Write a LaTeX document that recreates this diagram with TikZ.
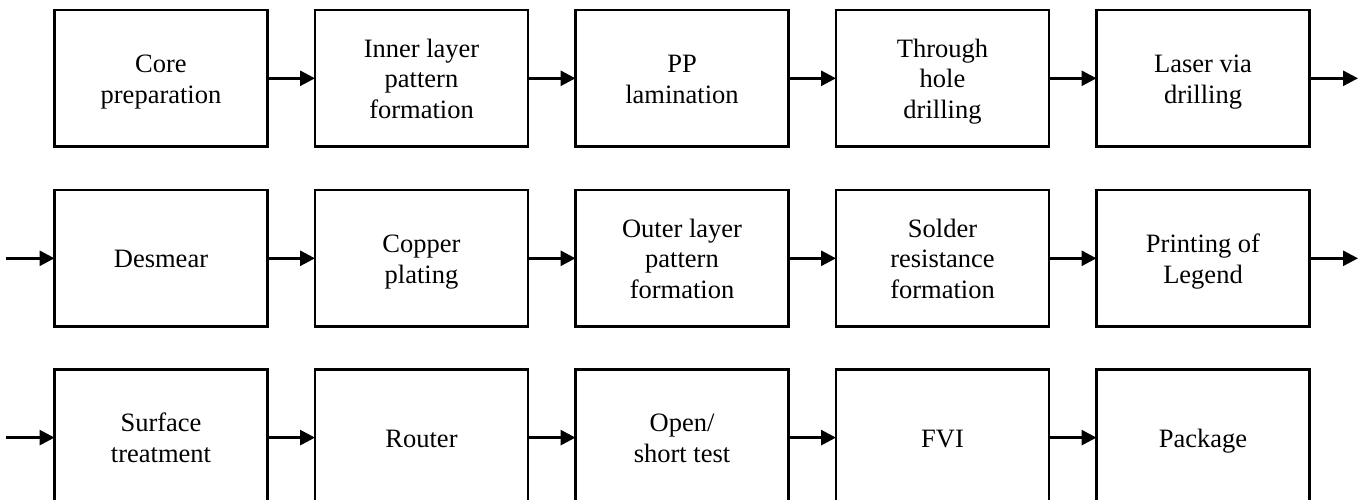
\documentclass[tikz,border=0pt]{standalone}
\usepackage{fontspec}
\setmainfont{Liberation Serif}
\usetikzlibrary{arrows.meta}
% invisible rule that fixes the height of the first text line
\newcommand\firstln{\rule{0pt}{28.4pt}}
\tikzset{
  stepbox/.style={draw, line width=2.8pt, minimum width=213pt, minimum height=136.5pt,
    inner sep=0pt, outer sep=0pt, align=center,
    font=\fontsize{26.5pt}{30.7pt}\selectfont,
    execute at end node={\rule[-9.2pt]{0pt}{9.2pt}}},
  flow/.style={line width=2.8pt, -{Triangle[length=15pt,width=15pt]}}
}
\begin{document}
\begin{tikzpicture}[x=1pt,y=-1pt]
  \clip (0,0) rectangle (1368,499);
  % row 1
  \node[stepbox] (a1) at (161,78.3)   {\firstln Core\\preparation};
  \node[stepbox] (a2) at (421.5,78.3) {\firstln Inner layer\\pattern\\formation};
  \node[stepbox] (a3) at (682,78.3)   {\firstln PP\\lamination};
  \node[stepbox] (a4) at (942.5,78.3) {\firstln Through\\hole\\drilling};
  \node[stepbox] (a5) at (1203,78.3)  {\firstln Laser via\\drilling};
  % row 2
  \node[stepbox] (b1) at (161,258.3)    {\firstln Desmear};
  \node[stepbox] (b2) at (421.5,258.3)  {\firstln Copper\\plating};
  \node[stepbox] (b3) at (682,258.3)    {\firstln Outer layer\\pattern\\formation};
  \node[stepbox] (b4) at (942.5,258.3)  {\firstln Solder\\resistance\\formation};
  \node[stepbox] (b5) at (1203,258.3)   {\firstln Printing of\\Legend};
  % row 3
  \node[stepbox] (c1) at (161,437.6)  {\firstln Surface\\treatment};
  \node[stepbox] (c2) at (421.5,437.6){\firstln Router};
  \node[stepbox] (c3) at (682,437.6)  {\firstln Open/\\short test};
  \node[stepbox] (c4) at (942.5,437.6){\firstln FVI};
  \node[stepbox] (c5) at (1203,437.6) {\firstln Package};
  % row ends
  \coordinate (aout) at (1358,78.3);
  \coordinate (bin)  at (6,258.3);
  \coordinate (bout) at (1358,258.3);
  \coordinate (cin)  at (6,437.6);
  % connectors
  \draw[flow] (a1) -- (a2);
  \draw[flow] (a2) -- (a3);
  \draw[flow] (a3) -- (a4);
  \draw[flow] (a4) -- (a5);
  \draw[flow] (a5) -- (aout);
  \draw[flow] (bin) -- (b1);
  \draw[flow] (b1) -- (b2);
  \draw[flow] (b2) -- (b3);
  \draw[flow] (b3) -- (b4);
  \draw[flow] (b4) -- (b5);
  \draw[flow] (b5) -- (bout);
  \draw[flow] (cin) -- (c1);
  \draw[flow] (c1) -- (c2);
  \draw[flow] (c2) -- (c3);
  \draw[flow] (c3) -- (c4);
  \draw[flow] (c4) -- (c5);
\end{tikzpicture}
\end{document}
